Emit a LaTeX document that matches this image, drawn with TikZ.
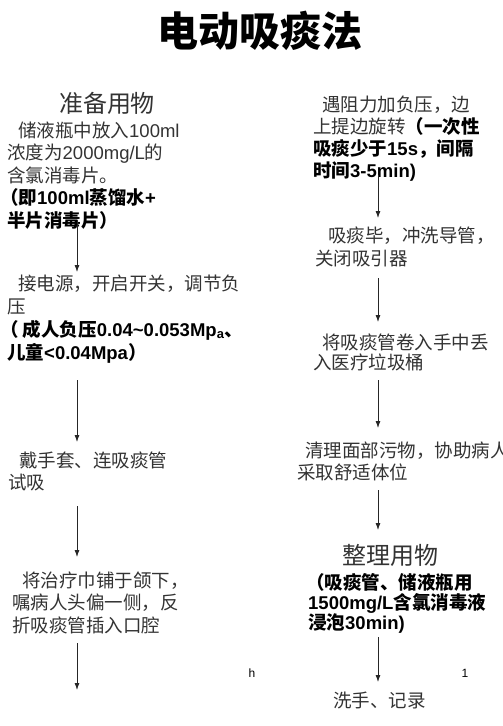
\documentclass[tikz,border=0pt]{standalone}
\usepackage{fontspec}
\setmainfont{Liberation Sans}
\newfontfamily\cjk{Noto Sans CJK SC}
\usepackage{tikz}
\usetikzlibrary{arrows.meta}

\newcommand{\zh}[1]{{\cjk #1}}
\newcommand{\hl}[1]{{\color{black}\bfseries #1}}

\tikzset{
	txt/.style={anchor=base west,inner sep=0pt,align=left,text=black!80,
		font=\fontsize{18.5}{22.5}\selectfont},
	head/.style={inner sep=0pt,text=black!80,font=\cjk\fontsize{24}{28}\selectfont},
	pg/.style={inner sep=0pt,font=\fontsize{12}{14}\selectfont},
	flow/.style={->,line width=0.8pt,black!85},
}

\begin{document}
\begin{tikzpicture}[x=1pt,y=-1pt,>={Latex[length=7pt,width=5pt]}]
		\useasboundingbox (0,0) rectangle (503,726);
		\node[inner sep=0pt,font=\cjk\bfseries\fontsize{41}{45}\selectfont] (title) at (260,31) {电动吸痰法};
		% left column (text nodes sit on the baseline of their last line)
		\node[head] (prephead) at (107,103) {准备用物};
		\node[txt] (prep) at (7,227) {\hspace*{11pt}\zh{储液瓶中放入}100ml\\ \zh{浓度为}2000mg/L\zh{的}\\ \zh{含氯消毒片。}\\ \hspace*{-7pt}\hl{\zh{（即}100ml\zh{蒸馏水}+}\\ \hl{\zh{半片消毒片）}}};
		\node[txt,font=\fontsize{18.5}{23}\selectfont] (power) at (7,359) {\hspace*{11pt}\zh{接电源，开启开关，调节负}\\ \zh{压}\\ \hspace*{-7pt}\hl{\zh{（ 成人负压}0.04\textasciitilde0.053Mp\textsubscript{a}\zh{、}}\\ \hl{\zh{儿童}<0.04Mpa\zh{）}}};
		\node[txt,font=\fontsize{18.5}{22}\selectfont] (glove) at (8,489) {\hspace*{11pt}\zh{戴手套、连吸痰管}\\ \zh{试吸}};
		\node[txt] (towel) at (12,632) {\hspace*{10pt}\zh{将治疗巾铺于颌下，}\\ \zh{嘱病人头偏一侧，反}\\ \zh{折吸痰管插入口腔}};
		% right column
		\node[txt,font=\fontsize{18.5}{21.7}\selectfont] (resist) at (313,177) {\hspace*{9pt}\zh{遇阻力加负压，边}\\ \zh{上提边旋转}\hl{\zh{（一次性}}\\ \hl{\zh{吸痰少于}15s\zh{，间隔}}\\ \hl{\zh{时间}3-5min)}};
		\node[txt,font=\fontsize{18.5}{23}\selectfont] (rinse) at (315,265) {\hspace*{13pt}\zh{吸痰毕，冲洗导管，}\\ \zh{关闭吸引器}};
		\node[txt,font=\fontsize{18.5}{20.5}\selectfont] (discard) at (313,369.5) {\hspace*{9pt}\zh{将吸痰管卷入手中丢}\\ \zh{入医疗垃圾桶}};
		\node[txt,font=\fontsize{18.5}{22}\selectfont] (clean) at (297,479) {\hspace*{8pt}\zh{清理面部污物，协助病人}\\ \zh{采取舒适体位}};
		\node[head] (tidyhead) at (390,555) {整理用物};
		\node[txt,font=\fontsize{18.5}{20}\selectfont] (tidy) at (308,629) {\hspace*{-2pt}\hl{\zh{（吸痰管、储液瓶用}}\\ \hl{1500mg/L\zh{含氯消毒液}}\\ \hl{\zh{浸泡}30min)}};
		\node[txt] (wash) at (333,707) {\zh{洗手、记录}};
		% page marks
		\node[pg] (ph) at (252,673) {h};
		\node[pg] (pn) at (465,673) {1};
		% arrows
		\foreach \i/\x/\ya/\yb in {1/77/220/272,2/77/380/442,3/77/506/557,4/77/643/690,
			5/378/175/218,6/378/278/322,7/378/380/428,8/378/490/530,9/378/637/682}{
			\coordinate (s\i) at (\x,\ya);
			\coordinate (e\i) at (\x,\yb);
			\draw[flow] (s\i) -- (e\i);
		}
	\end{tikzpicture}
\end{document}
